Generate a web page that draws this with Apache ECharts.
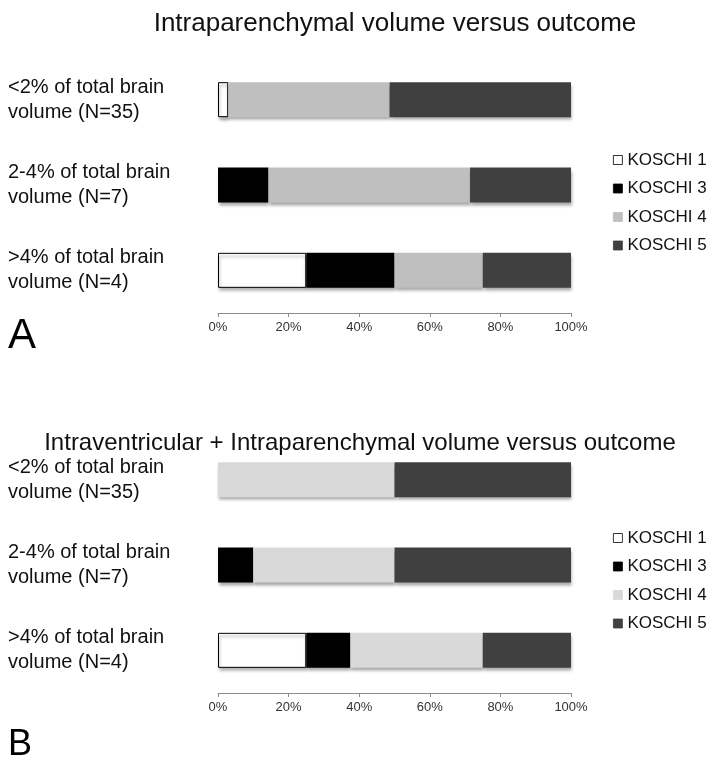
<!DOCTYPE html>
<html>
<head>
<meta charset="utf-8">
<script src="https://cdn.jsdelivr.net/npm/echarts@6/dist/echarts.min.js"></script>
<style>
  html, body { margin: 0; padding: 0; background: #fff; }
  .panel { width: 714px; height: 384px; }
</style>
</head>
<body>
<div id="chartA" class="panel"></div>
<div id="chartB" class="panel"></div>
<script>
// groups (rows, top to bottom)
const categories = [
  '<2% of total brain\nvolume (N=35)',
  '2-4% of total brain\nvolume (N=7)',
  '>4% of total brain\nvolume (N=4)'
]
const outcomes = ['KOSCHI 1', 'KOSCHI 3', 'KOSCHI 4', 'KOSCHI 5']

// panel A: intraparenchymal volume, percent of patients per outcome
const panelA_k1 = [2.9, 0, 25]
const panelA_k3 = [0, 14.3, 25]
const panelA_k4 = [45.7, 57.1, 25]
const panelA_k5 = [51.4, 28.6, 25]

// panel B: intraventricular + intraparenchymal volume
const panelB_k1 = [0, 0, 25]
const panelB_k3 = [0, 10, 12.5]
const panelB_k4 = [50, 40, 37.5]
const panelB_k5 = [50, 50, 25]

const xTicks = [0, 20, 40, 60, 80, 100]

const font = 'Liberation Sans, Arial, sans-serif'

function buildChart(el, opts) {
    const chart = echarts.init(el)
    const colors = ['#ffffff', '#000000', opts.k4Color, '#404040']
    const values = [opts.k1, opts.k3, opts.k4, opts.k5]

    const series = outcomes.map((name, i) => ({
        name: name,
        type: 'bar',
        stack: 'total',
        barWidth: 35,
        data: values[i].map(v => (v === 0 ? '-' : v)),
        itemStyle: {
            color: colors[i],
            borderColor: i === 0 ? '#000' : colors[i],
            borderWidth: i === 0 ? 1 : 0,
            shadowColor: 'rgba(0,0,0,0.35)',
            shadowBlur: 3,
            shadowOffsetY: 3,
            shadowOffsetX: 1
        },
        emphasis: { disabled: true }
    }))

    chart.setOption({
        animation: false,
        textStyle: { fontFamily: font },
        title: {
            text: opts.title,
            left: opts.titleX,
            top: opts.titleTop,
            textAlign: 'center',
            textStyle: {
                fontFamily: font,
                fontSize: opts.titleSize,
                fontWeight: 'normal',
                color: '#111'
            }
        },
        legend: {
            orient: 'vertical',
            left: 613,
            top: opts.legendTop,
            padding: 0,
            itemWidth: 9,
            itemHeight: 9,
            itemGap: 10.5,
            icon: 'rect',
            data: outcomes,
            selectedMode: false,
            itemStyle: { borderWidth: 0.8 },
            textStyle: {
                fontFamily: font,
                fontSize: 17,
                lineHeight: 18,
                color: '#111'
            }
        },
        grid: {
            left: 218,
            right: 143,
            top: opts.gridTop,
            height: 256
        },
        xAxis: {
            type: 'value',
            min: xTicks[0],
            max: xTicks[xTicks.length - 1],
            interval: xTicks[1] - xTicks[0],
            splitLine: { show: false },
            axisLine: { show: true, lineStyle: { color: '#8c8c8c', width: 1 } },
            axisTick: { show: true, length: 4, lineStyle: { color: '#8c8c8c' } },
            axisLabel: {
                formatter: '{value}%',
                fontSize: 13,
                color: '#333',
                margin: 8
            }
        },
        yAxis: {
            type: 'category',
            inverse: true,
            data: categories,
            axisLine: { show: false },
            axisTick: { show: false },
            axisLabel: {
                align: 'left',
                margin: 210,
                fontSize: 20,
                lineHeight: 25,
                color: '#111'
            }
        },
        graphic: [{
            type: 'text',
            left: 8,
            top: opts.letterTop,
            style: {
                text: opts.letter,
                font: opts.letterSize + 'px ' + font,
                fill: '#000'
            }
        }],
        series: series
    })
    return chart
}

buildChart(document.getElementById('chartA'), {
    title: 'Intraparenchymal volume versus outcome',
    titleX: 390,
    titleTop: 6,
    titleSize: 26,
    legendTop: 151,
    gridTop: 57,
    letter: 'A',
    letterTop: 315,
    letterSize: 42,
    k4Color: '#bfbfbf',
    k1: panelA_k1, k3: panelA_k3, k4: panelA_k4, k5: panelA_k5
})

buildChart(document.getElementById('chartB'), {
    title: 'Intraventricular + Intraparenchymal volume versus outcome',
    titleX: 355,
    titleTop: 42,
    titleSize: 24,
    legendTop: 145,
    gridTop: 53,
    letter: 'B',
    letterTop: 343,
    letterSize: 36,
    k4Color: '#d9d9d9',
    k1: panelB_k1, k3: panelB_k3, k4: panelB_k4, k5: panelB_k5
})
</script>
</body>
</html>
